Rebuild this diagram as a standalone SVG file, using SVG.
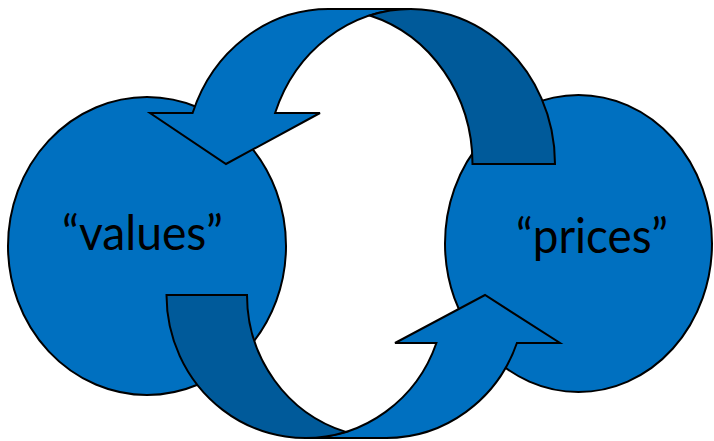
<svg xmlns="http://www.w3.org/2000/svg" width="714" height="441" viewBox="0 0 714 441">
  <style>
    .node { fill: #0070C0; stroke: #000; stroke-width: 2; }
    .label { font-family: Lato, "Liberation Sans", sans-serif; font-size: 48px; fill: #000; }
    .band { fill: #0070C0; stroke: #000; stroke-width: 2; stroke-linejoin: miter; }
    .band-back { fill: #005A9A; stroke: #000; stroke-width: 2; stroke-linejoin: miter; }
  </style>
  <rect width="714" height="441" fill="#fff"/>

  <!-- circle nodes -->
  <g id="values">
    <ellipse class="node" cx="147" cy="246" rx="139" ry="149"/>
    <text class="label" x="62" y="250" textLength="161" lengthAdjust="spacingAndGlyphs">“values”</text>
  </g>
  <g id="prices">
    <ellipse class="node" cx="578.5" cy="243.5" rx="133.5" ry="148.5"/>
    <text class="label" x="516" y="253" textLength="152" lengthAdjust="spacingAndGlyphs">“prices”</text>
  </g>

  <!-- curved arrows between the two nodes -->
  <g id="connectors">
    <!-- prices -> values: arch over the top, head pointing down-left -->
    <g id="arrow-top">
      <path class="band" d="M275.1,113 L320,113 L226,164 L150,113 L192.6,113 A144,155 0 0 1 328.5,9 L411,9 A144,155 0 0 0 275.1,113 Z"/>
      <path class="band-back" d="M369.75,15.5 A144,155 0 0 1 472.5,164 L555,164 A144,155 0 0 0 369.75,15.5 Z"/>
    </g>
    <!-- values -> prices: arch under the bottom, head pointing up-right -->
    <g id="arrow-bottom">
      <path class="band" d="M436.4,343 L395,343 L485,295 L560,343 L516.9,343 A139,143 0 0 1 386,438 L305.5,438 A139,143 0 0 0 436.4,343 Z"/>
      <path class="band-back" d="M345.75,431.9 A139,143 0 0 1 247,295 L166.5,295 A139,143 0 0 0 345.75,431.9 Z"/>
    </g>
  </g>
</svg>
